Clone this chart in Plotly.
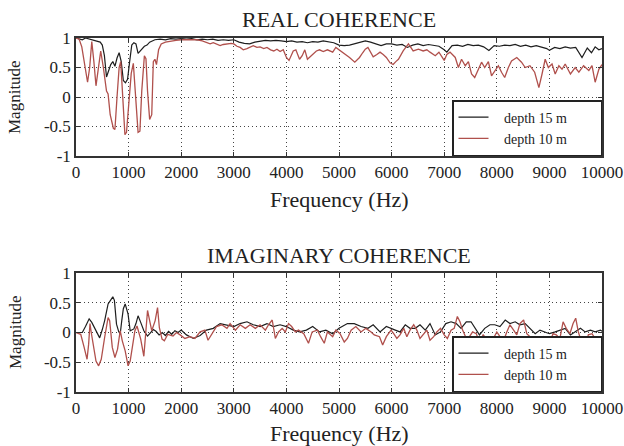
import plotly.graph_objects as go

# ---------------- data ----------------
real15_f = [0,60,120,180,250,320,400,460,500,540,580,620,660,700,740,780,820,860,900,940,980,1020,1060,1100,1140,1180,1220,1260,1300,1350,1400,1450,1500,1600,1700,1800,1900,2000,2100,2200,2300,2400,2500,2600,2700,2800,2900,3000,3100,3200,3300,3400,3500,3600,3700,3800,3900,4000,4100,4200,4300,4400,4500,4600,4700,4800,4900,5000,5100,5200,5300,5400,5500,5600,5700,5800,5900,6000,6100,6200,6300,6400,6500,6600,6700,6800,6900,7000,7050,7150,7250,7350,7450,7550,7650,7750,7850,7950,8050,8150,8250,8350,8450,8550,8650,8750,8850,8950,9000,9100,9200,9300,9400,9500,9620,9720,9800,9870,9940,10000]
real15_v = [1.0,0.99,0.97,1.0,0.98,0.97,0.95,0.93,0.88,0.7,0.34,0.45,0.55,0.6,0.52,0.66,0.75,0.6,0.28,0.24,0.3,0.6,0.88,0.92,0.9,0.74,0.78,0.82,0.86,0.88,0.93,0.95,0.97,0.98,0.97,0.99,0.98,0.99,0.98,0.99,0.97,0.98,0.97,0.98,0.96,0.97,0.96,0.97,0.93,0.91,0.9,0.93,0.95,0.96,0.95,0.96,0.95,0.94,0.95,0.93,0.94,0.92,0.94,0.93,0.95,0.94,0.92,0.88,0.87,0.88,0.9,0.92,0.95,0.93,0.9,0.87,0.9,0.9,0.88,0.89,0.84,0.88,0.9,0.87,0.89,0.88,0.86,0.8,0.76,0.87,0.88,0.86,0.89,0.87,0.88,0.85,0.79,0.87,0.86,0.88,0.87,0.89,0.86,0.88,0.85,0.87,0.84,0.82,0.79,0.84,0.82,0.85,0.83,0.84,0.67,0.83,0.75,0.85,0.8,0.82]

real10_f = [0,60,110,160,220,260,300,340,380,420,470,520,580,610,650,710,740,780,820,850,880,930,960,1000,1050,1090,1130,1180,1215,1250,1300,1330,1360,1400,1440,1470,1500,1530,1570,1620,1700,1800,1900,2000,2100,2200,2300,2400,2480,2550,2610,2680,2740,2800,2870,2950,3000,3060,3120,3180,3250,3310,3370,3440,3500,3570,3630,3700,3760,3820,3880,3940,4000,4050,4130,4180,4250,4300,4350,4400,4500,4570,4630,4700,4780,4880,4940,5000,5070,5130,5200,5300,5390,5450,5500,5550,5600,5650,5720,5780,5840,5900,5970,6030,6080,6130,6220,6320,6410,6510,6600,6670,6730,6830,6900,7000,7050,7110,7210,7270,7330,7400,7460,7520,7580,7640,7710,7770,7840,7900,7960,8030,8090,8150,8220,8280,8380,8470,8540,8630,8720,8800,8860,8920,8980,9050,9110,9180,9240,9300,9400,9490,9560,9650,9750,9810,9870,9940,10000]
real10_v = [1.0,0.98,0.85,0.55,0.25,0.5,0.94,0.6,0.19,0.45,0.78,0.5,0.1,0.05,-0.3,-0.53,-0.55,0.0,0.5,0.6,0.1,-0.64,-0.6,-0.2,0.4,0.57,0.0,-0.6,-0.58,0.1,0.7,0.65,0.1,-0.38,-0.3,0.6,0.64,0.55,0.8,0.9,0.93,0.95,0.96,0.97,0.97,0.96,0.97,0.95,0.93,0.9,0.92,0.9,0.87,0.89,0.9,0.91,0.9,0.86,0.84,0.8,0.82,0.85,0.87,0.84,0.85,0.82,0.84,0.8,0.78,0.81,0.77,0.8,0.67,0.62,0.78,0.8,0.64,0.7,0.8,0.64,0.73,0.78,0.8,0.77,0.8,0.76,0.84,0.8,0.76,0.72,0.67,0.59,0.67,0.75,0.81,0.84,0.75,0.68,0.72,0.76,0.72,0.67,0.58,0.55,0.6,0.64,0.78,0.9,0.78,0.81,0.78,0.8,0.76,0.7,0.76,0.62,0.72,0.76,0.67,0.5,0.64,0.53,0.6,0.39,0.33,0.45,0.59,0.5,0.6,0.36,0.45,0.53,0.42,0.33,0.5,0.61,0.67,0.59,0.5,0.53,0.42,0.16,0.39,0.64,0.5,0.56,0.39,0.53,0.47,0.56,0.39,0.5,0.42,0.53,0.45,0.53,0.25,0.47,0.55]

imag15_f = [0,60,120,180,250,300,350,400,450,500,545,610,675,700,730,770,810,840,870,900,935,990,1030,1100,1140,1180,1230,1290,1360,1420,1470,1520,1580,1640,1700,1760,1820,1880,1940,2000,2100,2230,2360,2480,2610,2740,2870,3000,3120,3250,3370,3500,3630,3750,3880,4000,4130,4250,4380,4500,4630,4750,4880,5000,5160,5290,5420,5550,5650,5780,5900,5970,6070,6160,6260,6350,6450,6540,6640,6730,6830,6930,7030,7130,7230,7320,7420,7510,7610,7670,7770,7870,7960,8060,8160,8250,8350,8440,8540,8630,8730,8820,8920,9000,9110,9200,9300,9400,9490,9590,9680,9780,9870,9970,10000]
imag15_v = [0.0,0.0,0.0,0.1,0.23,0.17,0.08,-0.02,-0.09,0.05,0.2,0.48,0.58,0.6,0.54,0.14,0.02,-0.03,0.2,0.4,0.48,0.31,0.03,0.06,0.15,0.28,0.17,0.03,-0.06,0.0,0.05,0.02,-0.04,0.0,-0.05,0.02,-0.03,0.03,0.0,0.04,-0.04,-0.1,-0.05,0.04,0.07,0.15,0.13,0.1,0.15,0.18,0.13,0.1,0.15,0.1,0.13,0.1,0.04,0.01,0.04,0.1,0.01,0.04,-0.02,0.07,0.15,0.15,0.1,0.07,0.13,0.01,0.1,0.07,0.04,0.01,0.13,0.07,0.07,0.13,0.04,0.15,-0.04,0.01,0.15,0.18,0.15,0.07,0.18,0.18,0.04,-0.04,0.07,0.13,0.13,0.1,0.21,0.15,0.18,0.13,0.15,0.07,-0.02,0.04,0.01,-0.02,0.01,0.04,0.07,-0.04,0.01,0.07,0.01,0.04,0.01,0.04,0.02]

imag10_f = [0,90,155,210,240,266,290,320,380,430,480,545,610,640,690,740,790,840,880,935,990,1030,1080,1120,1160,1230,1290,1325,1360,1400,1440,1505,1550,1585,1636,1680,1745,1845,1910,1980,2070,2170,2260,2360,2450,2510,2580,2670,2770,2870,2930,3030,3120,3220,3310,3410,3500,3600,3660,3730,3790,3850,3920,3980,4040,4100,4170,4230,4330,4420,4490,4590,4650,4720,4780,4880,4940,5020,5100,5160,5230,5320,5420,5510,5610,5670,5770,5830,5900,5990,6040,6100,6160,6230,6290,6350,6420,6480,6540,6610,6670,6730,6800,6860,6930,7000,7060,7130,7190,7250,7300,7350,7420,7480,7540,7610,7670,7740,7800,7870,7930,8000,8060,8120,8190,8250,8320,8380,8440,8510,8570,8630,8700,8760,8820,8890,8950,9000,9070,9130,9200,9260,9320,9390,9450,9500,9550,9610,9680,9740,9810,9870,9940,10000]
imag10_v = [0.0,-0.03,-0.25,-0.45,-0.2,0.15,0.0,-0.17,-0.48,-0.56,-0.45,-0.08,0.25,0.2,-0.25,-0.42,-0.28,0.03,-0.14,-0.31,-0.56,-0.48,-0.23,0.03,0.11,-0.11,-0.4,0.0,0.37,0.2,0.03,0.2,0.42,0.08,-0.11,-0.14,-0.03,-0.06,0.0,-0.04,-0.1,-0.07,-0.1,0.01,0.04,-0.13,-0.02,0.1,0.13,0.07,0.15,0.04,0.13,0.07,0.13,0.07,0.13,0.04,0.13,0.21,-0.1,0.01,0.07,0.01,0.15,0.1,0.01,0.04,-0.02,-0.18,0.01,0.04,-0.07,-0.18,0.01,-0.07,0.04,-0.02,-0.16,-0.1,0.04,0.1,0.01,0.07,0.01,-0.04,-0.07,-0.21,-0.07,0.04,-0.02,-0.1,-0.04,0.07,-0.07,0.04,0.13,0.04,-0.1,-0.02,0.04,-0.13,-0.07,0.01,0.07,-0.04,-0.1,0.04,0.07,0.27,0.18,0.04,-0.1,-0.07,0.01,-0.02,-0.16,-0.04,-0.1,-0.21,-0.1,0.01,-0.07,-0.16,0.01,0.13,0.04,-0.04,0.15,0.21,-0.02,-0.07,-0.1,-0.16,-0.1,-0.07,-0.16,-0.18,-0.02,-0.04,-0.1,0.18,0.07,-0.02,0.15,0.24,0.01,-0.16,-0.27,-0.04,-0.02,-0.1,-0.24,-0.07]

x_ticks = [0, 1000, 2000, 3000, 4000, 5000, 6000, 7000, 8000, 9000, 10000]
x_ticktext = ["0", "1000", "2000", "3000", "4000", "5000", "6000", "7000", "8000", "9000", "10000"]
y_ticks = [-1, -0.5, 0, 0.5, 1]
y_ticktext = ["-1", "-0.5", "0", "0.5", "1"]
series_names = ["depth 15 m", "depth 10 m"]

# ---------------- styling ----------------
FONT = "Liberation Serif, Times New Roman, serif"
C15 = "#1e1e1e"
C10 = "#b0504c"
W, H = 624, 446

fig = go.Figure()

pre = "\u00a0" * 3
post = "\u00a0" * 8
fig.add_trace(go.Scatter(x=real15_f, y=real15_v, mode="lines", name=pre + series_names[0] + post,
                         line=dict(color=C15, width=1.2), xaxis="x", yaxis="y", legend="legend"))
fig.add_trace(go.Scatter(x=real10_f, y=real10_v, mode="lines", name=pre + series_names[1] + post,
                         line=dict(color=C10, width=1.3), xaxis="x", yaxis="y", legend="legend"))
fig.add_trace(go.Scatter(x=imag15_f, y=imag15_v, mode="lines", name=pre + series_names[0] + post,
                         line=dict(color=C15, width=1.2), xaxis="x2", yaxis="y2", legend="legend2"))
fig.add_trace(go.Scatter(x=imag10_f, y=imag10_v, mode="lines", name=pre + series_names[1] + post,
                         line=dict(color=C10, width=1.3), xaxis="x2", yaxis="y2", legend="legend2"))

x_dom = [76 / W, 602 / W]
top_dom = [1 - 156 / H, 1 - 38 / H]
bot_dom = [1 - 392 / H, 1 - 273 / H]

axis_common = dict(
    automargin=False,
    showline=True, linecolor="#333", linewidth=1.5, mirror="allticks",
    ticks="inside", ticklen=4, tickcolor="#333", tickwidth=1,
    showgrid=True, gridcolor="#444", gridwidth=1, griddash="1px,3px",
    zeroline=False, tickfont=dict(family=FONT, size=17, color="#222"),
)
xaxis_common = dict(range=[0, 10000], tickvals=x_ticks, ticktext=x_ticktext, **axis_common)
yaxis_common = dict(range=[-1, 1], tickvals=y_ticks, ticktext=y_ticktext,
                    ticksuffix="\u00a0", **axis_common)

legend_common = dict(xanchor="right", yanchor="bottom",
                     bgcolor="white", bordercolor="#222", borderwidth=1.5,
                     font=dict(family=FONT, size=14, color="#222"), tracegroupgap=0,
                     itemwidth=30)

fig.update_layout(
    template="none",
    width=W, height=H, autosize=False,
    margin=dict(l=0, r=0, t=0, b=0, pad=0, autoexpand=False),
    paper_bgcolor="white", plot_bgcolor="white",
    font=dict(family=FONT, color="#222"),
    xaxis=dict(domain=x_dom, anchor="y", **xaxis_common),
    yaxis=dict(domain=top_dom, anchor="x", **yaxis_common),
    xaxis2=dict(domain=x_dom, anchor="y2", **xaxis_common),
    yaxis2=dict(domain=bot_dom, anchor="x2", **yaxis_common),
    legend=dict(x=602 / W, y=1 - 156 / H, **legend_common),
    legend2=dict(x=602 / W, y=1 - 392 / H, **legend_common),
    showlegend=True,
)

ann = [
    dict(text="REAL COHERENCE", x=339 / W, y=1 - 19 / H, size=22),
    dict(text="Frequency (Hz)", x=339 / W, y=1 - 199 / H, size=22),
    dict(text="IMAGINARY COHERENCE", x=339 / W, y=1 - 255 / H, size=22),
    dict(text="Frequency (Hz)", x=339 / W, y=1 - 433 / H, size=22),
]
for a in ann:
    fig.add_annotation(text=a["text"], x=a["x"], y=a["y"], xref="paper", yref="paper",
                       xanchor="center", yanchor="middle", showarrow=False,
                       font=dict(family=FONT, size=a["size"], color="#222"))
for yy in [97, 332]:
    fig.add_annotation(text="Magnitude", x=15 / W, y=1 - yy / H, xref="paper", yref="paper",
                       xanchor="center", yanchor="middle", showarrow=False, textangle=-90,
                       font=dict(family=FONT, size=17, color="#222"))

fig.write_html("out.html",
               post_script="document.body.style.margin='0';document.body.style.padding='0';")
